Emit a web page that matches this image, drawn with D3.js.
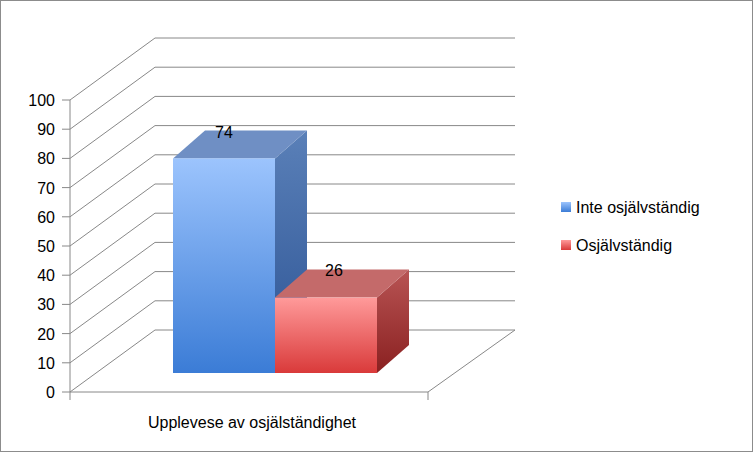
<!DOCTYPE html><html><head><script src="https://cdn.jsdelivr.net/npm/d3@7"></script>
<style>body{margin:0;background:#fff}text{font-family:"Liberation Sans",Arial,sans-serif}</style></head><body>
<svg id="c" width="753" height="452"></svg>
<script>
const categories=["Upplevese av osjälständighet"];
const seriesNames=["Inte osjälvständig","Osjälvständig"];
const seriesValues=[74,26];
const ticks=[0,10,20,30,40,50,60,70,80,90,100];
const svg=d3.select("#c");
svg.append("rect").attr("x",0.5).attr("y",0.5).attr("width",752).attr("height",451).attr("fill","#fff").attr("stroke","#8c8c8c");
const defs=svg.append("defs");
function grad(id,c1,c2){const g=defs.append("linearGradient").attr("id",id).attr("x1",0).attr("y1",0).attr("x2",0).attr("y2",1);g.append("stop").attr("offset",0).attr("stop-color",c1);g.append("stop").attr("offset",1).attr("stop-color",c2);}
grad("bf","#9cc4fd","#3b7cd6");grad("bs","#5a80b8","#2c5394");
grad("rf","#ff9a9a","#d93a3a");grad("rs","#b85454","#8a2020");
const y=d3.scaleLinear().domain([0,100]).range([392,100]);
const dx=85,dy=-62;
const g=svg.append("g");
// back wall gridlines and side wall lines
ticks.forEach(t=>{
 g.append("line").attr("x1",70).attr("y1",y(t)).attr("x2",70+dx).attr("y2",y(t)+dy).attr("stroke","#888");
 g.append("line").attr("x1",70+dx).attr("y1",y(t)+dy).attr("x2",515).attr("y2",y(t)+dy).attr("stroke","#888");
 g.append("line").attr("x1",62).attr("y1",y(t)).attr("x2",70).attr("y2",y(t)).attr("stroke","#888");
 g.append("text").attr("x",55).attr("y",y(t)+6).attr("text-anchor","end").attr("font-size",16).text(t);
});
g.append("line").attr("x1",70).attr("y1",y(0)).attr("x2",70).attr("y2",y(100)).attr("stroke","#888");
g.append("path").attr("d",`M70,392L428,392L515,330`).attr("fill","none").attr("stroke","#888");
g.append("line").attr("x1",70).attr("y1",392).attr("x2",70).attr("y2",400).attr("stroke","#888");
g.append("line").attr("x1",428).attr("y1",392).attr("x2",428).attr("y2",400).attr("stroke","#888");
// bars
const x=d3.scaleBand().domain(seriesNames).range([173,377]);
const yb=d3.scaleLinear().domain([0,100]).range([373,83]);
const bdx=32,bdy=-28;
const fills=[["bf","bs","#6f8fc4"],["rf","rs","#c46a6a"]];
seriesNames.forEach((s,i)=>{
 const v=seriesValues[i],x0=x(s),x1=x0+x.bandwidth(),yt=yb(v),y0=yb(0);
 g.append("path").attr("d",`M${x1},${yt}L${x1+bdx},${yt+bdy}L${x1+bdx},${y0+bdy}L${x1},${y0}Z`).attr("fill",`url(#${fills[i][1]})`);
 g.append("path").attr("d",`M${x0},${yt}L${x0+bdx},${yt+bdy}L${x1+bdx},${yt+bdy}L${x1},${yt}Z`).attr("fill",fills[i][2]);
 g.append("rect").attr("x",x0).attr("y",yt).attr("width",x1-x0).attr("height",y0-yt).attr("fill",`url(#${fills[i][0]})`);
 g.append("text").attr("x",x0+bdx+19+(i?8:0)).attr("y",yt+bdy/2+ (i?-8:-6)).attr("text-anchor","middle").attr("font-size",16).text(v);
});
g.append("text").attr("x",252).attr("y",428).attr("text-anchor","middle").attr("font-size",16).text(categories[0]);
// legend
seriesNames.forEach((s,i)=>{
 const ly=202+i*38;
 g.append("rect").attr("x",561).attr("y",ly).attr("width",10).attr("height",10).attr("fill",`url(#${fills[i][0]})`);
 g.append("text").attr("x",576).attr("y",ly+11).attr("font-size",16).text(s);
});
</script></body></html>
